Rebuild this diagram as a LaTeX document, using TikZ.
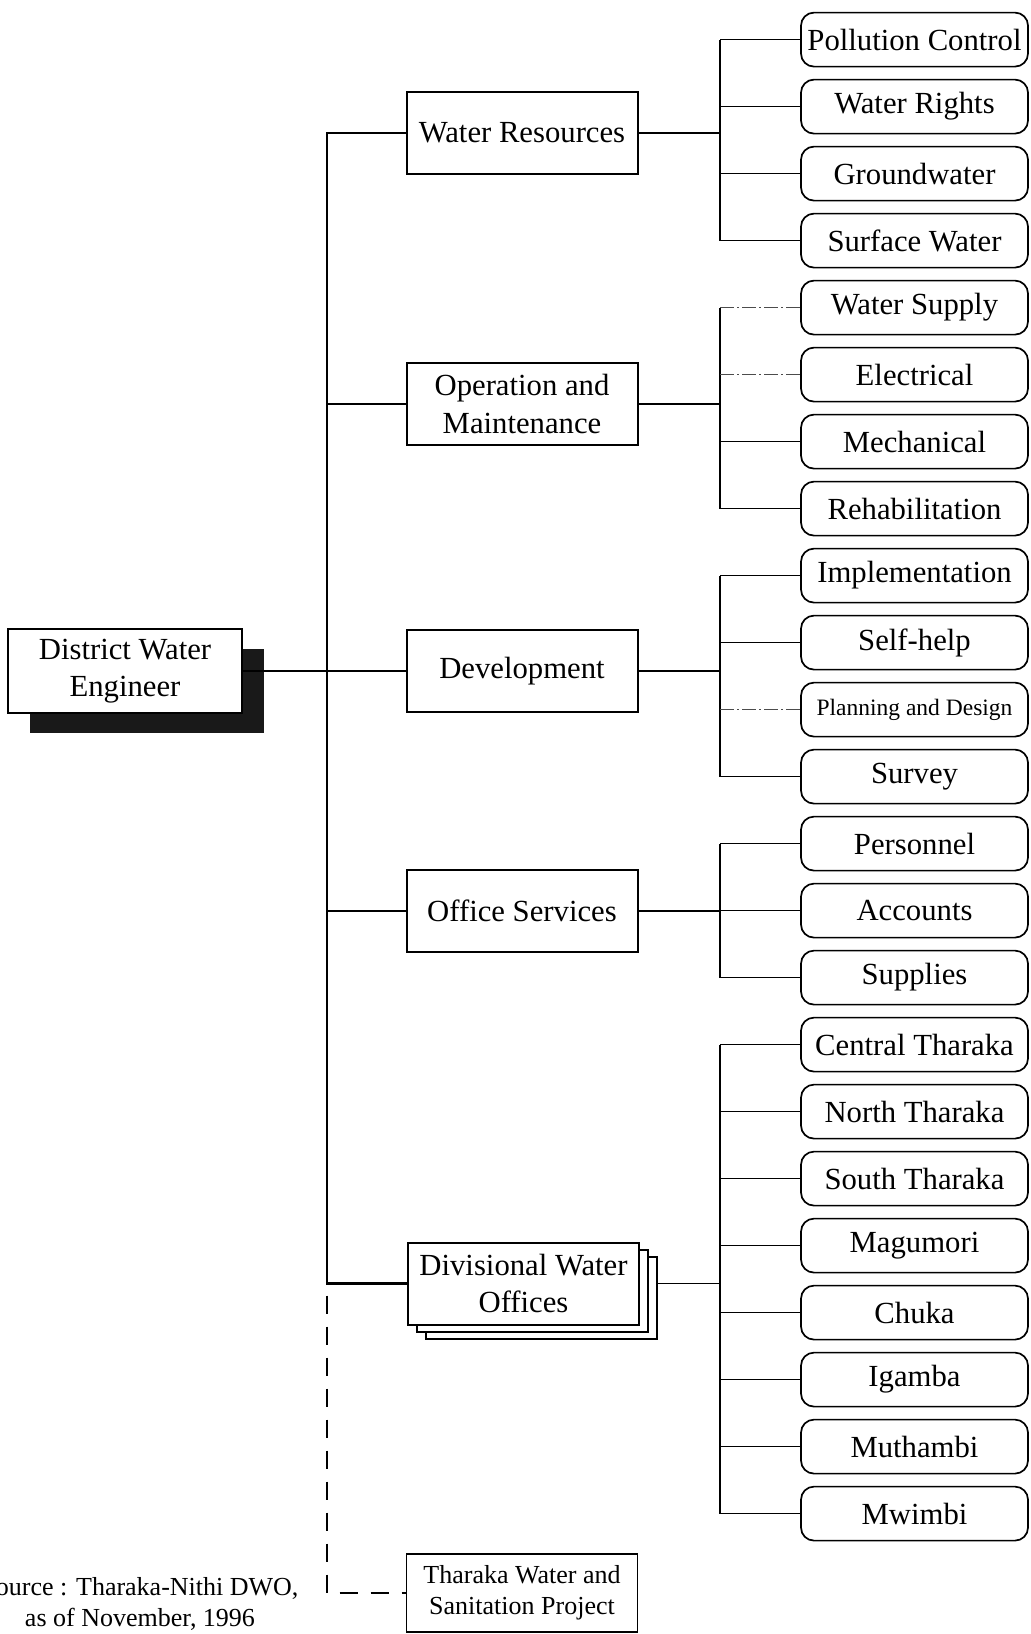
\documentclass[tikz,border=0pt]{standalone}
\usepackage{fontspec}
\setmainfont{Liberation Serif}
\usetikzlibrary{shadows}
\newcommand\mainfs{\fontsize{15.35pt}{18.75pt}\selectfont}
\newcommand\notefs{\fontsize{13pt}{15.5pt}\selectfont}
\newcommand\leafsmallfs{\fontsize{11.75pt}{14pt}\selectfont}
\begin{document}
\begin{tikzpicture}[x=0.5pt,y=-0.5pt,
  midbox/.style={draw, line width=1pt, fill=white, minimum width=115.5pt,
    minimum height=41pt, inner sep=0pt, align=center, font=\mainfs},
  leafbox/.style={draw, line width=0.85pt, rounded corners=6.5pt, fill=white,
    minimum width=113.5pt, minimum height=27pt, inner sep=0pt, font=\mainfs},
  trunkline/.style={line width=1.2pt},
  twig/.style={line width=0.55pt},
  faint/.style={line width=0.55pt, black!70,
    dash pattern=on 7pt off 1.5pt on 1pt off 1.5pt},
  dashline/.style={line width=1pt, dash pattern=on 9pt off 6.5pt, dash phase=-6pt},
]
\useasboundingbox (0,0) rectangle (1030,1634);

% head of the department
\node[draw, line width=1pt, fill=white, minimum width=117pt, minimum height=42pt,
  inner sep=0pt, align=center, font=\mainfs,
  drop shadow={shadow xshift=11pt, shadow yshift=-10pt, fill=black!90, opacity=1}]
  (dwe) at (125,671) {District Water\\Engineer};

% sections
\node[midbox] (wr)  at (522,133)  {Water Resources};
\node[midbox] (om)  at (522,404)  {Operation and\\Maintenance};
\node[midbox] (dev) at (522,671)  {Development};
\node[midbox] (os)  at (522,911)  {Office Services};
\node[midbox,
  copy shadow={shadow xshift=9pt, shadow yshift=-7pt, line width=1pt},
  copy shadow={shadow xshift=4.5pt, shadow yshift=-3.5pt, line width=1pt}]
  (dwo) at (523.5,1283.5) {Divisional Water\\Offices};
\node[midbox, font=\notefs, minimum height=39pt, line width=0.9pt]
  (tws) at (522,1593) {Tharaka Water and\\Sanitation Project};

% units
\foreach \i/\t in {0/Pollution Control, 1/Water Rights, 2/Groundwater,
    3/Surface Water, 4/Water Supply, 5/Electrical, 6/Mechanical,
    7/Rehabilitation, 8/Implementation, 9/Self-help, 11/Survey,
    12/Personnel, 13/Accounts, 14/Supplies, 15/Central Tharaka,
    16/North Tharaka, 17/South Tharaka, 18/Magumori, 19/Chuka,
    20/Igamba, 21/Muthambi, 22/Mwimbi}
  \node[leafbox] (l\i) at (914.5,{39.6+67*\i}) {\t};
\node[leafbox, font=\leafsmallfs] (l10) at (914.5,{39.6+67*10}) {Planning and Design};

% source note
\node[align=center, font=\notefs, inner sep=0pt] (src) at (140,1604)
  {Source : Tharaka-Nithi DWO,\\as of November, 1996};

% main trunk
\coordinate (tk) at (327,133);
\draw[trunkline] (wr.west) -- (wr.west -| tk) -- (dwo.west -| tk) -- (dwo.west);
\foreach \n in {om,dev,os}
  \draw[trunkline] (\n.west -| tk) -- (\n.west);
\draw[trunkline] (dwe.east) -- (dwe.east -| tk);
\draw[dashline] (dwo.west -| tk) -- (tws.west -| tk) -- (tws.west);

% brackets to the units
\coordinate (bx) at (720,0);
\foreach \n/\a/\b in {wr/0/3, om/4/7, dev/8/11, os/12/14} {
  \draw[twig] (\n.east) -- (\n.east -| bx);
  \draw[twig] (l\a.west -| bx) -- (l\b.west -| bx);
}
\draw[twig] (dwo.east -| dwo.east) ++(18,0) -- (dwo.east -| bx);
\draw[twig] (l15.west -| bx) -- (l22.west -| bx);
\foreach \i in {0,1,2,3,6,7,8,9,11,12,13,14,15,16,17,18,19,20,21,22}
  \draw[twig] (l\i.west -| bx) -- (l\i.west);
\foreach \i in {4,5,10}
  \draw[faint] (l\i.west -| bx) -- (l\i.west);
\end{tikzpicture}
\end{document}
